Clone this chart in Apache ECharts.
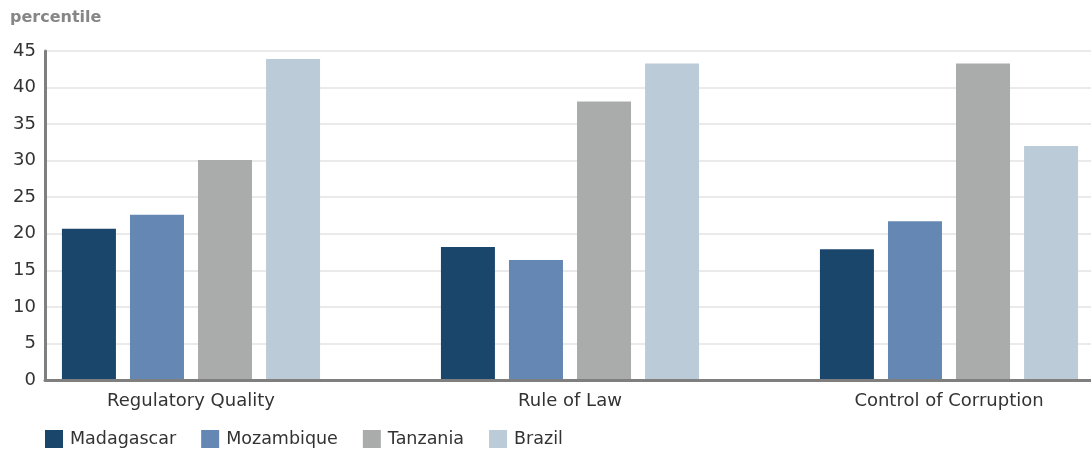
<!DOCTYPE html>
<html>
<head>
<meta charset="utf-8">
<script src="https://cdn.jsdelivr.net/npm/echarts@6/dist/echarts.min.js"></script>
<style>
  html, body { margin: 0; padding: 0; background: #fff; }
  #chart { width: 1091px; height: 450px; }
</style>
</head>
<body>
<div id="chart"></div>
<script>
const categories = ['Regulatory Quality', 'Rule of Law', 'Control of Corruption'];
const madagascar = [20.7, 18.2, 17.9];
const mozambique = [22.6, 16.4, 21.7];
const tanzania = [30.1, 38.1, 43.3];
const brazil = [43.9, 43.3, 32.0];
const countries = ['Madagascar', 'Mozambique', 'Tanzania', 'Brazil'];
const colors = ['#1b466c', '#6487b3', '#aaabab', '#bccbd8'];

const font = 'DejaVu Sans';
const chart = echarts.init(document.getElementById('chart'));

const makeBar = (name, data, i) => ({
  name: name,
  type: 'bar',
  xAxisIndex: 1,
  yAxisIndex: 1,
  data: data,
  barWidth: 54,
  barGap: '26%',
  itemStyle: { color: colors[i] }
});

const option = {
  animation: false,
  title: {
    text: 'percentile',
    left: 5,
    top: 5,
    textStyle: { fontFamily: font, fontSize: 16, fontWeight: 'bold', color: '#868686' }
  },
  legend: {
    data: countries,
    left: 40,
    top: 425,
    itemWidth: 18,
    itemHeight: 18,
    itemGap: 25,
    icon: 'rect',
    textStyle: { fontFamily: font, fontSize: 17.5, color: '#333', padding: [0, 0, 0, 2] }
  },
  grid: [
    { left: 45, right: 0, top: 51, bottom: 70, outerBoundsMode: 'none' },   // axes + gridlines
    { left: 1.5, width: 1137, top: 51, bottom: 70, outerBoundsMode: 'none' } // bars + category labels
  ],
  xAxis: [
    {
      gridIndex: 0,
      type: 'category',
      data: [''],
      z: 5,
      axisLine: { lineStyle: { color: '#7f7f7f', width: 3 } },
      axisTick: { show: false },
      axisLabel: { show: false }
    },
    {
      gridIndex: 1,
      type: 'category',
      data: categories,
      axisLine: { show: false },
      axisTick: { show: false },
      axisLabel: { fontFamily: font, fontSize: 18, color: '#333', margin: 12 }
    }
  ],
  yAxis: [
    {
      gridIndex: 0,
      type: 'value',
      min: 0,
      max: 45,
      interval: 5,
      axisLine: { show: true, lineStyle: { color: '#7f7f7f', width: 3 } },
      axisTick: { show: false },
      axisLabel: { fontFamily: font, fontSize: 18, color: '#333', margin: 9 },
      splitLine: { lineStyle: { color: '#e3e3e3', width: 1.5 } }
    },
    { gridIndex: 1, type: 'value', min: 0, max: 45, show: false }
  ],
  series: [
    makeBar('Madagascar', madagascar, 0),
    makeBar('Mozambique', mozambique, 1),
    makeBar('Tanzania', tanzania, 2),
    makeBar('Brazil', brazil, 3)
  ]
};
chart.setOption(option);
</script>
</body>
</html>
